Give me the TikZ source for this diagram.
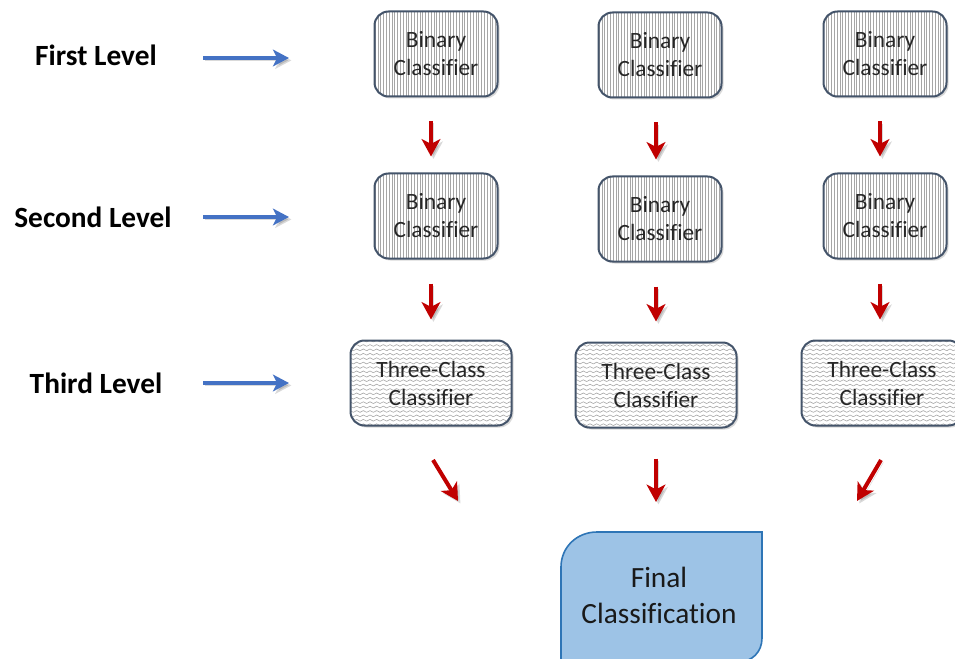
\documentclass[tikz,border=0pt]{standalone}
\usepackage{fontspec}
\setmainfont[Ligatures=CommonOff]{Carlito}
\usetikzlibrary{arrows.meta,shadows,patterns,patterns.meta,calc}

\definecolor{boxedge}{HTML}{44546A}
\definecolor{arrowred}{HTML}{C00000}
\definecolor{arrowblue}{HTML}{4472C4}
\definecolor{finalfill}{HTML}{9DC3E6}
\definecolor{finaledge}{HTML}{2E75B6}

% small zigzag hatching for the three-class boxes
\pgfdeclarepatternformonly{zigzag}{\pgfqpoint{-0.5pt}{-0.5pt}}{\pgfqpoint{5.5pt}{3.8pt}}{\pgfqpoint{5pt}{3.3pt}}{%
  \pgfsetlinewidth{0.45pt}%
  \pgfpathmoveto{\pgfqpoint{0pt}{0.2pt}}%
  \pgfpathlineto{\pgfqpoint{2.5pt}{1.5pt}}%
  \pgfpathlineto{\pgfqpoint{5pt}{0.2pt}}%
  \pgfusepath{stroke}%
}

\tikzset{
  classbox/.style={draw=boxedge, line width=1.5pt, rounded corners=10.5pt,
    minimum height=63.75pt, align=center, text=black!85,
    font=\fontsize{17.5}{21}\selectfont,
    drop shadow={shadow xshift=1.5pt, shadow yshift=-1.5pt, opacity=0.3, fill=black!50},
    preaction={fill=white}},
  binbox/.style={classbox, minimum width=92.25pt,
    pattern={Lines[angle=90,distance=2.1pt,line width=0.5pt]}, pattern color=black!35},
  triobox/.style={classbox, minimum width=120.75pt,
    pattern=zigzag, pattern color=black!35},
  levellabel/.style={font=\fontsize{22}{26}\selectfont\bfseries, text=black},
  arrowshadow/.style={preaction={draw=black, opacity=0.15,
    transform canvas={shift={(1.8pt,-1.8pt)}}}},
  redarrow/.style={arrowshadow, draw=arrowred, line width=3pt,
    -{Stealth[length=13pt,width=14pt,inset=3.5pt]}},
  bluearrow/.style={arrowshadow, draw=arrowblue, line width=2.4pt,
    -{Stealth[length=12pt,width=12.5pt,inset=3pt]}},
}

\begin{document}
\begin{tikzpicture}[x=0.75pt,y=-0.75pt]
\useasboundingbox (0,0) rectangle (955,659);

% level labels
\node[levellabel] (lv1) at (96,55) {First Level};
\node[levellabel] (lv2) at (93,217) {Second Level};
\node[levellabel] (lv3) at (96,383) {Third Level};

% classifier boxes
\node[binbox] (b11) at (436,54) {Binary\\Classifier};
\node[binbox] (b12) at (660,55) {Binary\\Classifier};
\node[binbox] (b13) at (885,54) {Binary\\Classifier};
\node[binbox] (b21) at (436,216) {Binary\\Classifier};
\node[binbox] (b22) at (660,219) {Binary\\Classifier};
\node[binbox] (b23) at (885,216) {Binary\\Classifier};
\node[triobox] (c31) at (431,383) {Three-Class\\Classifier};
\node[triobox] (c32) at (656,385) {Three-Class\\Classifier};
\node[triobox] (c33) at (882,383) {Three-Class\\Classifier};

% final result box
\draw[draw=finaledge, fill=finalfill, line width=1.2pt]
  (561,662) -- (561,567) .. controls (561,547) and (577,532) .. (597,532)
  -- (762,532) -- (762,638) .. controls (762,652) and (752,662) .. (738,662) -- cycle;
\node[align=center, font=\fontsize{22}{27}\selectfont, text=black!90] (final) at (659,595) {Final\\Classification};
\coordinate (ftop) at (656,532);

% level arrows
\coordinate (a1s) at (203,58);  \coordinate (a1e) at (289,58);
\coordinate (a2s) at (203,217); \coordinate (a2e) at (289,217);
\coordinate (a3s) at (203,383); \coordinate (a3e) at (289,383);
\draw[bluearrow] (a1s) -- (a1e);
\draw[bluearrow] (a2s) -- (a2e);
\draw[bluearrow] (a3s) -- (a3e);

% flow between levels
\draw[redarrow, shorten <=18pt, shorten >=12pt] ([xshift=-3.75pt]b11.south) -- ([xshift=-3.75pt]b21.north);
\draw[redarrow, shorten <=18pt, shorten >=12pt] ([xshift=-3pt]b12.south) -- ([xshift=-3pt]b22.north);
\draw[redarrow, shorten <=18pt, shorten >=12pt] ([xshift=-3.75pt]b13.south) -- ([xshift=-3.75pt]b23.north);
\draw[redarrow, shorten <=18pt, shorten >=15pt] ([xshift=-3.75pt]b21.south) -- (c31.north);
\draw[redarrow, shorten <=18pt, shorten >=15pt] ([xshift=-3pt]b22.south) -- (c32.north);
\draw[redarrow, shorten <=18pt, shorten >=15pt] ([xshift=-3.75pt]b23.south) -- ([xshift=-1.5pt]c33.north);

% into the final classification
\coordinate (d1s) at (433,460); \coordinate (d1e) at (458,501);
\coordinate (d3s) at (881,460); \coordinate (d3e) at (857,501);
\draw[redarrow] (d1s) -- (d1e);
\draw[redarrow, shorten <=22.5pt, shorten >=22.5pt] (c32.south) -- (ftop);
\draw[redarrow] (d3s) -- (d3e);
\end{tikzpicture}
\end{document}
